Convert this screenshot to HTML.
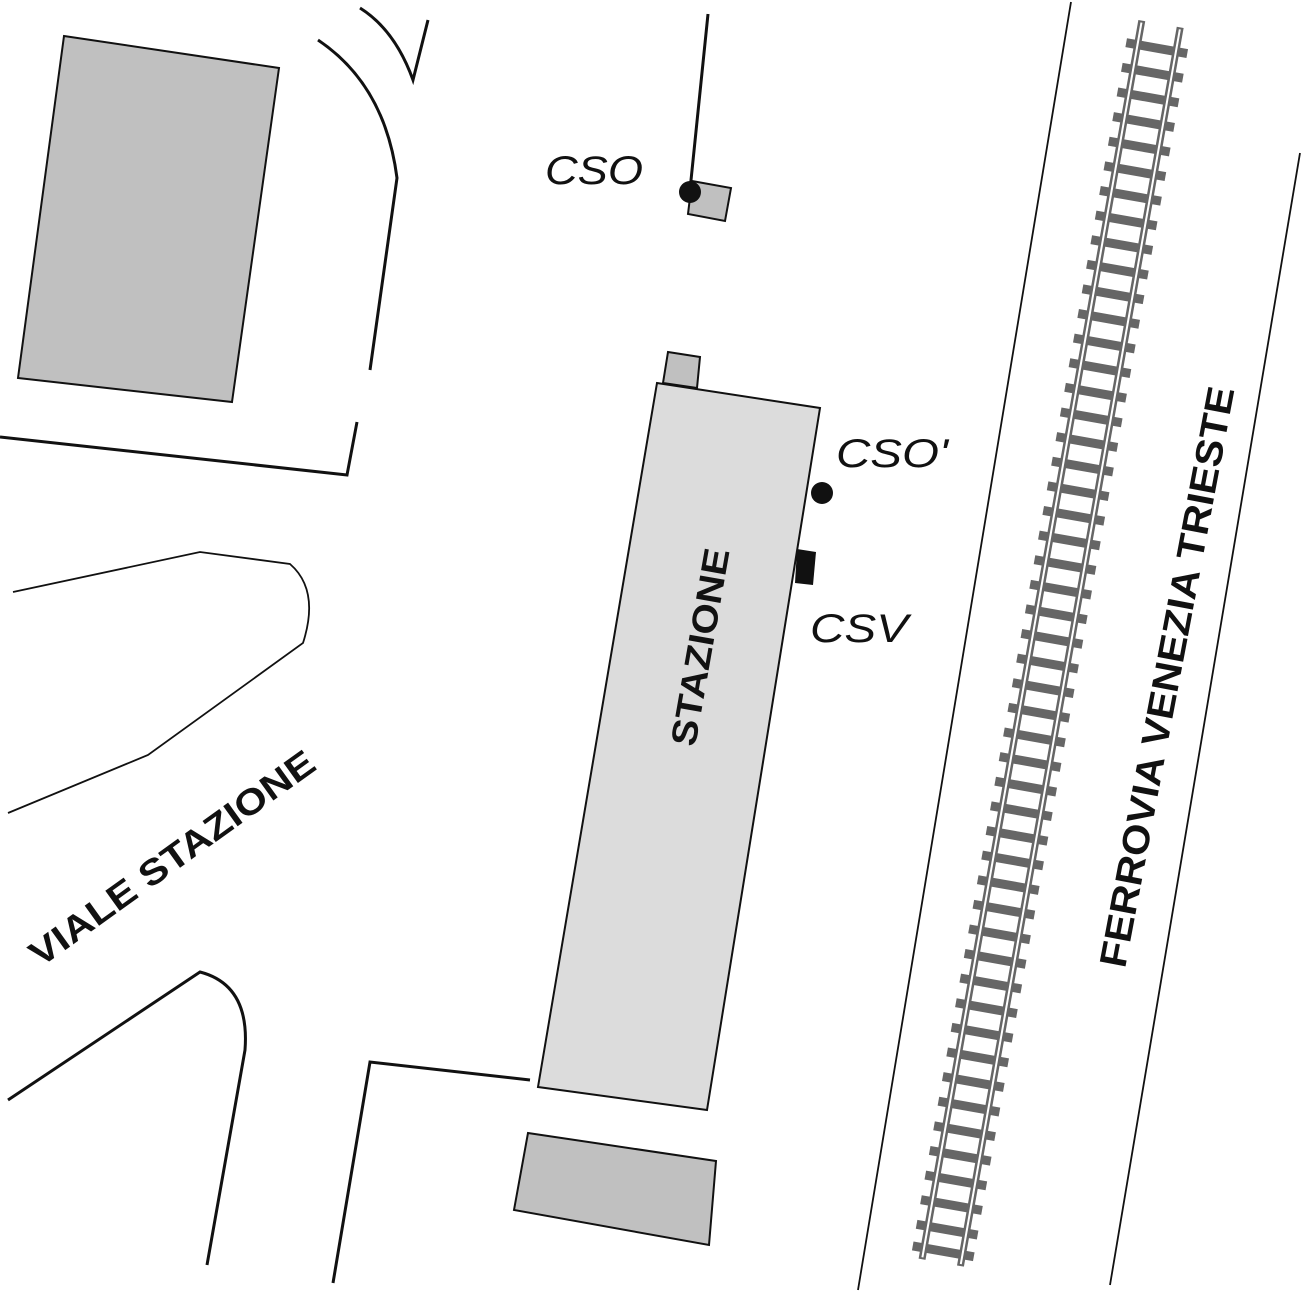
<!DOCTYPE html>
<html><head><style>body{margin:0;background:#fff}svg{display:block}</style></head><body>
<svg width="1302" height="1303" viewBox="0 0 1302 1303" xmlns="http://www.w3.org/2000/svg">
<polygon points="64,36 279,68 232,402 18,378" fill="#c0c0c0" stroke="#111" stroke-width="2"/>
<polygon points="668,352 700,357 697,388 663,383" fill="#c0c0c0" stroke="#111" stroke-width="2"/>
<polygon points="657,383 820,408 707,1110 538,1087" fill="#dcdcdc" stroke="#111" stroke-width="2"/>
<polygon points="528,1133 716,1161 709,1245 514,1210" fill="#c0c0c0" stroke="#111" stroke-width="2"/>
<polygon points="692,181 731,188 725,221 688,214" fill="#c0c0c0" stroke="#111" stroke-width="2"/>
<g fill="none" stroke="#111" stroke-width="3">
<path d="M708,14 L690,190"/>
<path d="M318,40 Q385,85 397,178 L370,370"/>
<path d="M360,8 Q395,30 413,80 L428,20"/>
<path d="M0,437 L347,475 L357,422"/>
<path d="M8,1100 L200,972 Q250,985 245,1050 L207,1265"/>
<path d="M333,1283 L370,1062 L530,1080"/>
</g>
<g fill="none" stroke="#111" stroke-width="1.8">
<path d="M13,592 L200,552 L290,564 Q320,590 303,643 L148,755 L8,813"/>
<path d="M1071,2 L858,1290"/>
<path d="M1300,153 L1110,1285"/>
</g>
<circle cx="690" cy="192" r="11" fill="#111"/>
<circle cx="822" cy="493" r="11" fill="#111"/>
<polygon points="797,549 816,552 813,585 795,583" fill="#111"/>
<g transform="translate(1161,24) rotate(10.06)">
<rect x="-31" y="20" width="62" height="9" fill="#666"/><rect x="-31" y="45" width="62" height="9" fill="#666"/><rect x="-31" y="70" width="62" height="9" fill="#666"/><rect x="-31" y="95" width="62" height="9" fill="#666"/><rect x="-31" y="120" width="62" height="9" fill="#666"/><rect x="-31" y="145" width="62" height="9" fill="#666"/><rect x="-31" y="170" width="62" height="9" fill="#666"/><rect x="-31" y="195" width="62" height="9" fill="#666"/><rect x="-31" y="220" width="62" height="9" fill="#666"/><rect x="-31" y="245" width="62" height="9" fill="#666"/><rect x="-31" y="270" width="62" height="9" fill="#666"/><rect x="-31" y="295" width="62" height="9" fill="#666"/><rect x="-31" y="320" width="62" height="9" fill="#666"/><rect x="-31" y="345" width="62" height="9" fill="#666"/><rect x="-31" y="370" width="62" height="9" fill="#666"/><rect x="-31" y="395" width="62" height="9" fill="#666"/><rect x="-31" y="420" width="62" height="9" fill="#666"/><rect x="-31" y="445" width="62" height="9" fill="#666"/><rect x="-31" y="470" width="62" height="9" fill="#666"/><rect x="-31" y="495" width="62" height="9" fill="#666"/><rect x="-31" y="520" width="62" height="9" fill="#666"/><rect x="-31" y="545" width="62" height="9" fill="#666"/><rect x="-31" y="570" width="62" height="9" fill="#666"/><rect x="-31" y="595" width="62" height="9" fill="#666"/><rect x="-31" y="620" width="62" height="9" fill="#666"/><rect x="-31" y="645" width="62" height="9" fill="#666"/><rect x="-31" y="670" width="62" height="9" fill="#666"/><rect x="-31" y="695" width="62" height="9" fill="#666"/><rect x="-31" y="720" width="62" height="9" fill="#666"/><rect x="-31" y="745" width="62" height="9" fill="#666"/><rect x="-31" y="770" width="62" height="9" fill="#666"/><rect x="-31" y="795" width="62" height="9" fill="#666"/><rect x="-31" y="820" width="62" height="9" fill="#666"/><rect x="-31" y="845" width="62" height="9" fill="#666"/><rect x="-31" y="870" width="62" height="9" fill="#666"/><rect x="-31" y="895" width="62" height="9" fill="#666"/><rect x="-31" y="920" width="62" height="9" fill="#666"/><rect x="-31" y="945" width="62" height="9" fill="#666"/><rect x="-31" y="970" width="62" height="9" fill="#666"/><rect x="-31" y="995" width="62" height="9" fill="#666"/><rect x="-31" y="1020" width="62" height="9" fill="#666"/><rect x="-31" y="1045" width="62" height="9" fill="#666"/><rect x="-31" y="1070" width="62" height="9" fill="#666"/><rect x="-31" y="1095" width="62" height="9" fill="#666"/><rect x="-31" y="1120" width="62" height="9" fill="#666"/><rect x="-31" y="1145" width="62" height="9" fill="#666"/><rect x="-31" y="1170" width="62" height="9" fill="#666"/><rect x="-31" y="1195" width="62" height="9" fill="#666"/><rect x="-31" y="1220" width="62" height="9" fill="#666"/><rect x="-31" y="1242" width="62" height="9" fill="#666"/>
<rect x="-23" y="0" width="7" height="1258" fill="#666"/><rect x="-20.5" y="2" width="2" height="1254" fill="#fff"/>
<rect x="16" y="0" width="7" height="1258" fill="#666"/><rect x="18.5" y="2" width="2" height="1254" fill="#fff"/>
</g>
<g font-family="Liberation Sans, sans-serif" fill="#111">
<text x="545" y="184" font-size="40" font-style="italic" textLength="98" lengthAdjust="spacingAndGlyphs">CSO</text>
<text x="836" y="467" font-size="40" font-style="italic" textLength="112" lengthAdjust="spacingAndGlyphs">CSO'</text>
<text x="810" y="642" font-size="40" font-style="italic" textLength="98" lengthAdjust="spacingAndGlyphs">CSV</text>
<text transform="translate(700,647) rotate(-80)" text-anchor="middle" dominant-baseline="central" font-size="36" font-weight="bold" textLength="200" lengthAdjust="spacingAndGlyphs">STAZIONE</text>
<text transform="translate(172,858) rotate(-35.7)" text-anchor="middle" dominant-baseline="central" font-size="36" font-weight="bold" textLength="342" lengthAdjust="spacingAndGlyphs">VIALE STAZIONE</text>
<text transform="translate(1168,677) rotate(-79.3)" text-anchor="middle" dominant-baseline="central" font-size="38" font-weight="bold" textLength="590" lengthAdjust="spacingAndGlyphs">FERROVIA VENEZIA TRIESTE</text>
</g>
</svg>
</body></html>
